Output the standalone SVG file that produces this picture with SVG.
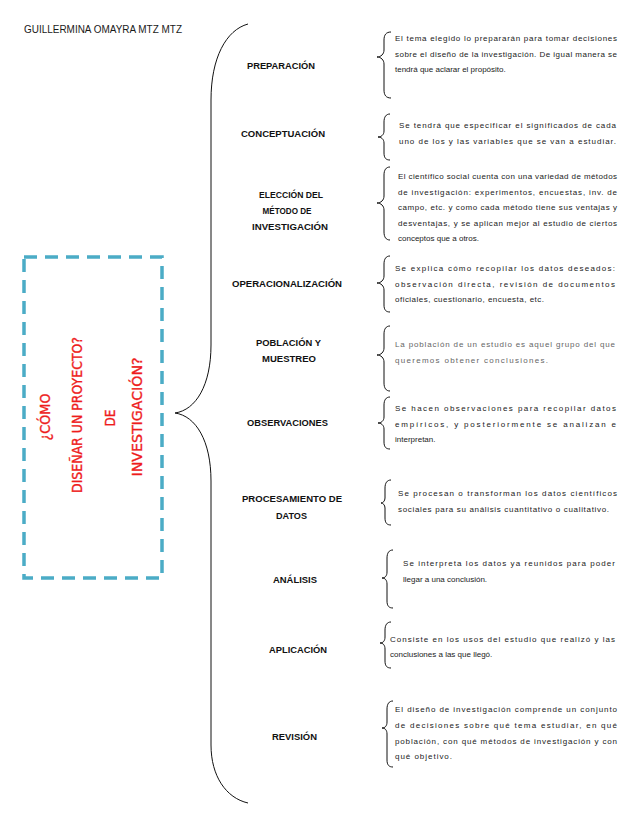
<svg xmlns="http://www.w3.org/2000/svg" width="638" height="826" viewBox="0 0 638 826">
<style>
.bg{fill:#ffffff}
.title{font-family:"Liberation Sans",Arial,sans-serif;font-size:10px;fill:#1a1a1a}
.lbl{font-family:"Liberation Sans",Arial,sans-serif;font-size:9.8px;font-weight:bold;fill:#111;text-anchor:middle}
.desc{font-family:"Liberation Sans",Arial,sans-serif;font-size:8px;fill:#222}
.gray{fill:#666}
.q{font-family:"DejaVu Sans",Verdana,sans-serif;font-size:13.5px;fill:#ee1c1c;stroke:#ee1c1c;stroke-width:0.35;text-anchor:middle}
.brace{fill:none;stroke:#111;stroke-width:1}
.box{fill:none;stroke:#4bacc6;stroke-width:3.5;stroke-dasharray:13 8}
</style>
<rect class="bg" x="0" y="0" width="638" height="826"/>
<text class="title" x="24" y="33" textLength="158" lengthAdjust="spacingAndGlyphs">GUILLERMINA OMAYRA MTZ MTZ</text>

<g id="question">
<rect class="box" x="24" y="257" width="138" height="321"/>
<text class="q" transform="translate(50,417) rotate(-90)" textLength="47" lengthAdjust="spacingAndGlyphs">¿CÓMO</text>
<text class="q" transform="translate(82,415) rotate(-90)" textLength="156" lengthAdjust="spacingAndGlyphs">DISEÑAR UN PROYECTO?</text>
<text class="q" transform="translate(115,418) rotate(-90)" textLength="17" lengthAdjust="spacingAndGlyphs">DE</text>
<text class="q" transform="translate(142,417) rotate(-90)" textLength="119" lengthAdjust="spacingAndGlyphs">INVESTIGACIÓN?</text>
</g>

<g id="connectors">
<path class="brace" d="M248 24 C226 30 211 58 211 100 L211 345 C211 385 196 410 175 413 C196 416 211 441 211 481 L211 745 C211 776 226 798 248 803"/>
<path class="brace" d="M391 32 C386 32 384 35 384 40 L384 50 C384 54 381 57 377 57 C381 57 384 60 384 64 L384 90 C384 95 386 98 391 98"/>
<path class="brace" d="M390 114 C386 114 384 117 384 122 L384 131 C384 135 381 137 378 137 C381 137 384 139 384 143 L384 153 C384 158 386 160 390 160"/>
<path class="brace" d="M390 167 C386 167 384 170 384 175 L384 196 C384 200 381 203 377 203 C381 203 384 206 384 210 L384 232 C384 237 386 240 390 240"/>
<path class="brace" d="M390 256 C386 256 384 259 384 264 L384 276 C384 280 381 283 377 283 C381 283 384 286 384 290 L384 305 C384 310 386 312 390 312"/>
<path class="brace" d="M390 326 C386 326 384 329 384 334 L384 348 C384 352 381 355 377 355 C381 355 384 358 384 362 L384 383 C384 388 386 391 390 391"/>
<path class="brace" d="M390 397 C386 397 384 400 384 405 L384 417 C384 421 381 423 378 423 C381 423 384 425 384 429 L384 442 C384 447 386 449 390 449"/>
<path class="brace" d="M391 480 C387 480 385 483 385 488 L385 498 C385 501 383 503 381 503 C383 503 385 505 385 508 L385 518 C385 523 387 525 391 525"/>
<path class="brace" d="M393 550 C389 550 387 553 387 558 L387 572 C387 576 385 578 382 578 C385 578 387 580 387 584 L387 601 C387 606 389 608 393 608"/>
<path class="brace" d="M391 622 C387 622 385 625 385 630 L385 637 C385 641 383 643 380 643 C383 643 385 645 385 649 L385 661 C385 666 387 668 391 668"/>
<path class="brace" d="M393 701 C389 701 387 704 387 709 L387 722 C387 726 385 728 382 728 C385 728 387 730 387 734 L387 760 C387 765 389 767 393 767"/>
</g>

<g id="n1">
<text class="lbl" x="281" y="69" textLength="68" lengthAdjust="spacingAndGlyphs">PREPARACIÓN</text>
<text class="desc" x="395" y="41" textLength="222">El tema elegido  lo prepararán para tomar decisiones</text>
<text class="desc" x="395" y="56.5" textLength="222">sobre el diseño de la investigación. De igual manera se</text>
<text class="desc" x="395" y="72">tendrá que aclarar el propósito.</text>
</g>
<g id="n2">
<text class="lbl" x="283" y="137" textLength="84" lengthAdjust="spacingAndGlyphs">CONCEPTUACIÓN</text>
<text class="desc" x="399" y="128" textLength="217">Se tendrá que especificar el significados de cada</text>
<text class="desc" x="399" y="144" textLength="217">uno de los y las variables que se van a estudiar.</text>
</g>
<g id="n3">
<text class="lbl" x="291" y="198" textLength="64" lengthAdjust="spacingAndGlyphs">ELECCIÓN DEL</text>
<text class="lbl" x="287" y="214" textLength="49" lengthAdjust="spacingAndGlyphs">MÉTODO DE</text>
<text class="lbl" x="290" y="230" textLength="76" lengthAdjust="spacingAndGlyphs">INVESTIGACIÓN</text>
<text class="desc" x="398" y="179" textLength="219">El científico social cuenta con una variedad de métodos</text>
<text class="desc" x="398" y="195" textLength="219">de  investigación:  experimentos,  encuestas,  inv.  de</text>
<text class="desc" x="398" y="210" textLength="219">campo, etc. y como cada método tiene sus ventajas y</text>
<text class="desc" x="398" y="226" textLength="219">desventajas, y se aplican mejor al estudio de ciertos</text>
<text class="desc" x="398" y="241">conceptos que a otros.</text>
</g>
<g id="n4">
<text class="lbl" x="287" y="287" textLength="110" lengthAdjust="spacingAndGlyphs">OPERACIONALIZACIÓN</text>
<text class="desc" x="395" y="271" textLength="220">Se explica cómo recopilar los datos deseados:</text>
<text class="desc" x="395" y="287" textLength="220">observación  directa,  revisión  de  documentos</text>
<text class="desc" x="395" y="302" textLength="149">oficiales, cuestionario, encuesta, etc.</text>
</g>
<g id="n5">
<text class="lbl" x="288.5" y="346" textLength="65" lengthAdjust="spacingAndGlyphs">POBLACIÓN Y</text>
<text class="lbl" x="289" y="362" textLength="54" lengthAdjust="spacingAndGlyphs">MUESTREO</text>
<text class="desc gray" x="395" y="347" textLength="220">La población de un estudio es aquel grupo del que</text>
<text class="desc gray" x="395" y="363" textLength="153">queremos obtener conclusiones.</text>
</g>
<g id="n6">
<text class="lbl" x="287.5" y="426" textLength="81" lengthAdjust="spacingAndGlyphs">OBSERVACIONES</text>
<text class="desc" x="395" y="411" textLength="221">Se  hacen  observaciones  para  recopilar  datos</text>
<text class="desc" x="395" y="427" textLength="221">empíricos,  y  posteriormente  se  analizan  e</text>
<text class="desc" x="395" y="442">interpretan.</text>
</g>
<g id="n7">
<text class="lbl" x="292" y="502" textLength="100" lengthAdjust="spacingAndGlyphs">PROCESAMIENTO DE</text>
<text class="lbl" x="291.5" y="519" textLength="31" lengthAdjust="spacingAndGlyphs">DATOS</text>
<text class="desc" x="398" y="496" textLength="219">Se  procesan  o  transforman  los  datos  científicos</text>
<text class="desc" x="398" y="512" textLength="211">sociales para su análisis cuantitativo o cualitativo.</text>
</g>
<g id="n8">
<text class="lbl" x="295" y="583" textLength="44" lengthAdjust="spacingAndGlyphs">ANÁLISIS</text>
<text class="desc" x="403" y="566" textLength="212">Se interpreta los datos ya reunidos para poder</text>
<text class="desc" x="403" y="582">llegar a una conclusión.</text>
</g>
<g id="n9">
<text class="lbl" x="298" y="653" textLength="58" lengthAdjust="spacingAndGlyphs">APLICACIÓN</text>
<text class="desc" x="390" y="642" textLength="225">Consiste en los usos del estudio que realizó y las</text>
<text class="desc" x="390" y="657">conclusiones a las que llegó.</text>
</g>
<g id="n10">
<text class="lbl" x="294.5" y="740" textLength="45" lengthAdjust="spacingAndGlyphs">REVISIÓN</text>
<text class="desc" x="395" y="712" textLength="222">El diseño de investigación comprende un conjunto</text>
<text class="desc" x="395" y="728" textLength="222">de decisiones sobre qué tema  estudiar, en qué</text>
<text class="desc" x="395" y="744" textLength="222">población, con qué métodos de investigación y con</text>
<text class="desc" x="395" y="759" textLength="57">qué objetivo.</text>
</g>
</svg>
